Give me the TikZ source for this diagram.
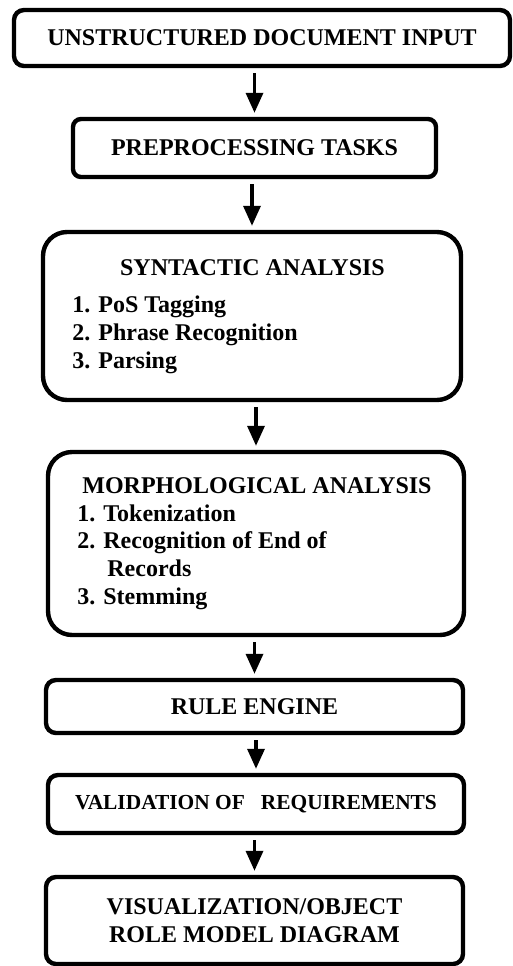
\documentclass[tikz,border=0pt]{standalone}
\usepackage{fontspec}
\setmainfont{Liberation Serif}
\usetikzlibrary{arrows.meta}

\begin{document}
\begin{tikzpicture}[x=0.5pt, y=-0.5pt,
  box/.style={draw, line width=2.2pt, rounded corners=5pt, inner sep=0pt, align=center, font=\bfseries\fontsize{12}{13.8}\selectfont},
  txt/.style={inner sep=0pt, align=left, font=\bfseries\fontsize{12}{13.8}\selectfont},
  flow/.style={-{Triangle[length=10pt, width=8.5pt]}, line width=1.7pt, shorten <=2.5pt, shorten >=2pt}]
\useasboundingbox (0,0) rectangle (513,966);

\node[box, minimum width=248pt, minimum height=28pt] (input) at (262,38) {UNSTRUCTURED DOCUMENT INPUT};
\node[box, rounded corners=4pt, minimum width=181.5pt, minimum height=29pt] (prep) at (254.5,148) {PREPROCESSING TASKS};

% syntactic analysis box with its list (list placed by its last baseline)
\node[box, rounded corners=12pt, minimum width=209pt, minimum height=84pt] (syn) at (252,316) {};
\node[txt, anchor=base] (syntitle) at (252.5,275) {SYNTACTIC ANALYSIS};
\node[txt, anchor=base west] (synlist) at (72,368) {1. PoS Tagging\\2. Phrase Recognition\\3. Parsing};

% morphological analysis box with its list
\node[box, rounded corners=12pt, minimum width=208pt, minimum height=91.5pt] (morph) at (256,543.5) {};
\node[txt, anchor=base] (morphtitle) at (257,493) {MORPHOLOGICAL ANALYSIS};
\node[txt, anchor=base west] (morphlist) at (77,604) {1. Tokenization\\2. Recognition of End of\\\hspace*{15pt}Records\\3. Stemming};

\node[box, minimum width=208.5pt, minimum height=26.5pt] (rule) at (254.5,706.5) {RULE ENGINE};
\node[box, minimum width=208pt, minimum height=29pt, font=\bfseries\fontsize{10.7}{12}\selectfont] (valid) at (256,804) {VALIDATION OF~~~REQUIREMENTS};
\node[box, minimum width=208.5pt, minimum height=43.5pt] (visual) at (254.5,920.5) {VISUALIZATION/OBJECT\\ROLE MODEL DIAGRAM};

\foreach \a/\b in {input/prep, prep/syn, syn/morph, morph/rule, rule/valid, valid/visual}
{
    \draw[flow] (\a.south -| \b.north) -- (\b.north);
};
\end{tikzpicture}
\end{document}
